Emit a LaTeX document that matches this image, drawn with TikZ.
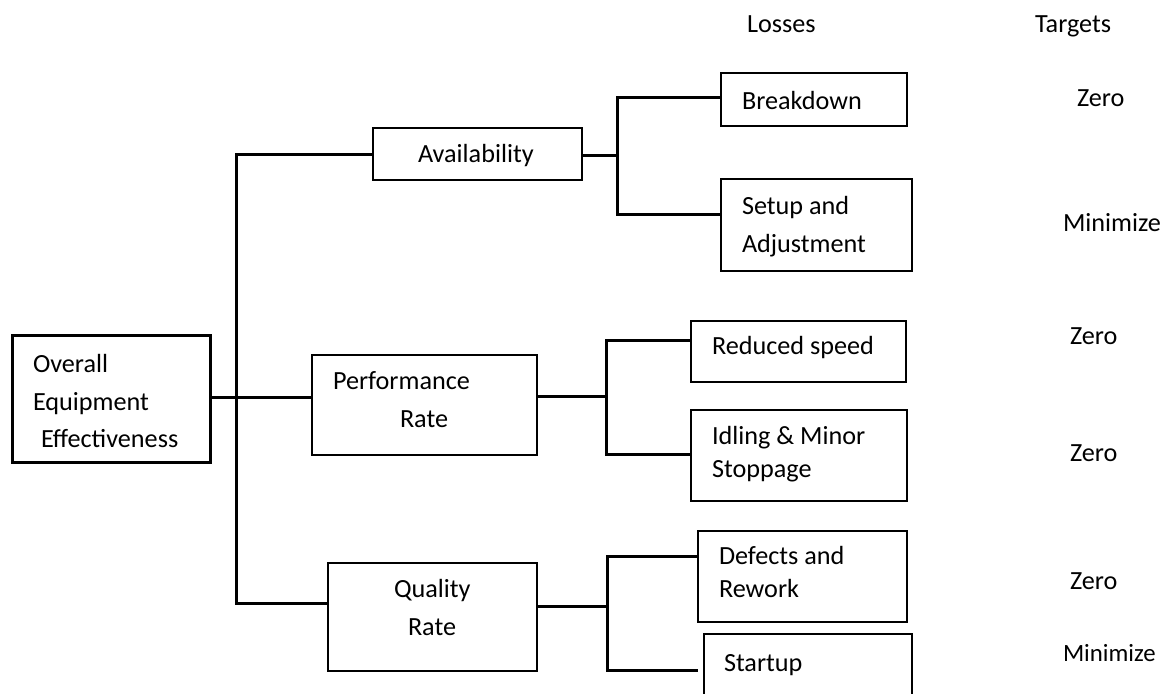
\documentclass[tikz,border=0pt]{standalone}
\usepackage{fontspec}
\setmainfont{Carlito}
\begin{document}
\begin{tikzpicture}[x=0.5pt,y=-0.5pt,
  box/.style={draw=black, line width=1pt, rectangle, inner sep=0pt, outer sep=0pt},
  link/.style={draw=black, line width=1.5pt, line cap=butt, line join=miter},
  lbl/.style={anchor=base west, inner sep=0pt, outer sep=0pt,
              font=\fontsize{13.1}{15}\selectfont},
  small/.style={lbl, font=\fontsize{12.4}{14}\selectfont}]
\useasboundingbox (0,0) rectangle (1168,694);
\clip (0,0) rectangle (1168,694);

% column headings
\node[lbl] (hloss) at (747,33) {Losses};
\node[lbl] (htarg) at (1035,33) {Targets};

% boxes
\node[box, line width=1.5pt, minimum width=99pt, minimum height=63.5pt] (oee) at (111,399.5) {};
\node[box, minimum width=104.5pt, minimum height=26pt]  (avail) at (477.5,154) {};
\node[box, minimum width=112.5pt, minimum height=50pt]  (perf)  at (424.5,405) {};
\node[box, minimum width=104.5pt, minimum height=54pt]  (qual)  at (432.5,617) {};
\node[box, minimum width=93pt,    minimum height=26.5pt] (brk)   at (814,99.5) {};
\node[box, minimum width=95.5pt,  minimum height=46pt]  (setup) at (816.5,225) {};
\node[box, minimum width=107.5pt, minimum height=30.5pt] (red)   at (798.5,351.5) {};
\node[box, minimum width=108pt,   minimum height=45.5pt] (idle)  at (799,455.5) {};
\node[box, minimum width=104.5pt, minimum height=45.5pt] (def)   at (802.5,576.5) {};
\node[box, minimum width=104pt,   minimum height=46pt]  (start) at (808,680) {};

% box texts
\node[lbl] (t1) at (33,373) {Overall};
\node[lbl] (t2) at (33,411) {Equipment};
\node[lbl] (t3) at (41,448) {Effectiveness};
\node[lbl] (t4) at (418,163) {Availability};
\node[lbl] (t5) at (333,390) {Performance};
\node[lbl] (t6) at (400,428) {Rate};
\node[lbl] (t7) at (394,598) {Quality};
\node[lbl] (t8) at (408,636) {Rate};
\node[lbl] (t9) at (742,110) {Breakdown};
\node[lbl] (t10) at (742,215) {Setup and};
\node[lbl] (t11) at (742,253) {Adjustment};
\node[lbl] (t12) at (712,355) {Reduced speed};
\node[lbl] (t13) at (712,445) {Idling \& Minor};
\node[lbl] (t14) at (712,478) {Stoppage};
\node[lbl] (t15) at (719,565) {Defects and};
\node[lbl] (t16) at (719,598) {Rework};
\node[lbl] (t17) at (724,672) {Startup};

% targets
\node[lbl] (z1) at (1077,107) {Zero};
\node[lbl] (m1) at (1063,232) {Minimize};
\node[lbl] (z2) at (1070,345) {Zero};
\node[lbl] (z3) at (1070,462) {Zero};
\node[lbl] (z4) at (1070,590) {Zero};
\node[small] (m2) at (1063,662) {Minimize};

% junction points
\coordinate (ja) at (236,155);
\coordinate (jp) at (236,398);
\coordinate (jq) at (236,604);
\coordinate (ka) at (617,156);
\coordinate (kp) at (606,397);
\coordinate (kq) at (607,607);
\coordinate (send) at (698,671);

% main tree
\draw[link] (avail.west |- ja) -- (ja) -- (jq) -- (qual.west |- jq);
\draw[link] (oee.east |- jp) -- (perf.west |- jp);

% availability branch
\draw[link] (avail.east |- ka) -- (ka);
\draw[link] (brk.west |- 0,98) -- (617,98) -- (617,215) -- (setup.west |- 0,215);

% performance branch
\draw[link] (perf.east |- kp) -- (kp);
\draw[link] (red.west |- 0,341) -- (606,341) -- (606,455) -- (idle.west |- 0,455);

% quality branch
\draw[link] (qual.east |- kq) -- (kq);
\draw[link] (def.west |- 0,557) -- (607,557) -- (607,671) -- (send);
\end{tikzpicture}
\end{document}
